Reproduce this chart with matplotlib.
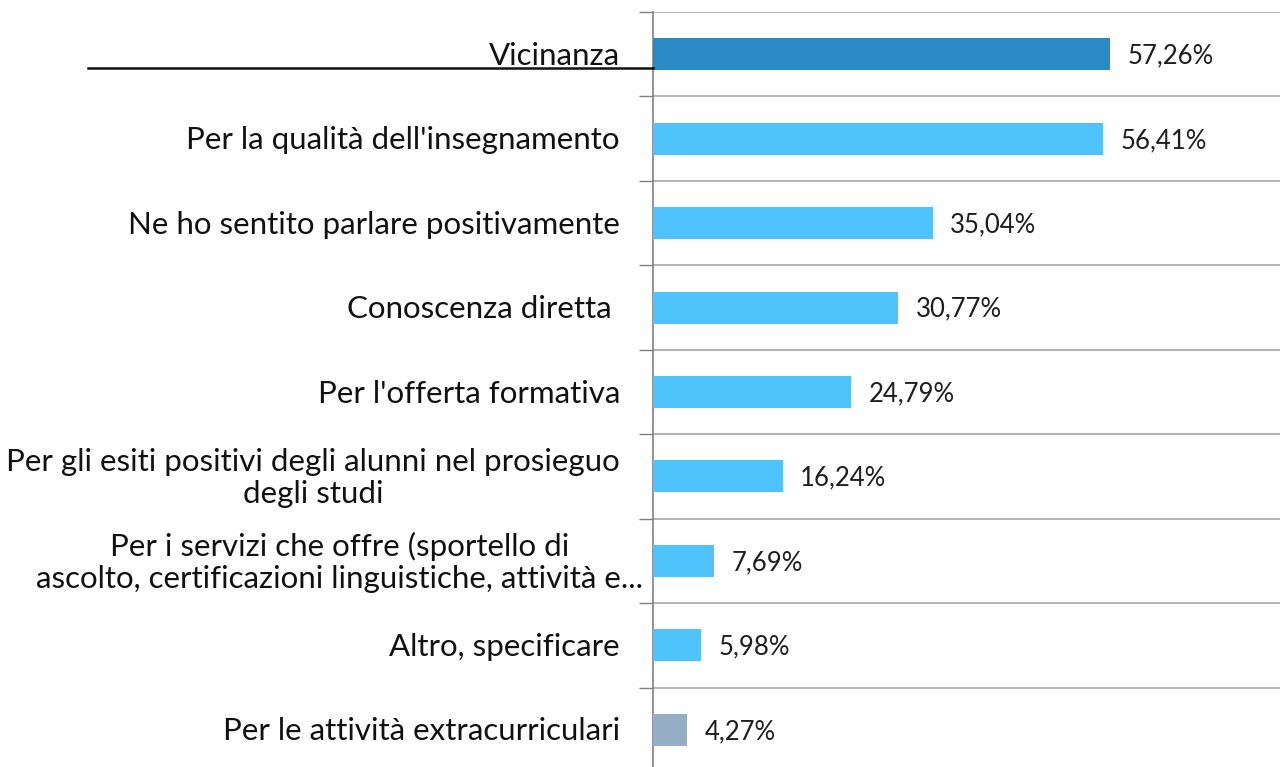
import numpy as np
import matplotlib.pyplot as plt
from matplotlib.lines import Line2D
from matplotlib.transforms import blended_transform_factory

plt.rcParams['font.family'] = ['Lato', 'DejaVu Sans']

categorie = [
    "Vicinanza",
    "Per la qualità dell'insegnamento",
    "Ne ho sentito parlare positivamente",
    "Conoscenza diretta ",
    "Per l'offerta formativa",
    "Per gli esiti positivi degli alunni nel prosieguo\ndegli studi",
    "Per i servizi che offre (sportello di\nascolto, certificazioni linguistiche, attività e...",
    "Altro, specificare",
    "Per le attività extracurriculari",
]
percentuali = [57.26, 56.41, 35.04, 30.77, 24.79, 16.24, 7.69, 5.98, 4.27]
colori = ["#2a8ac4"] + ["#4fc3fb"] * 7 + ["#95aec6"]

W, H = 1280, 767
fig = plt.figure(figsize=(W / 100, H / 100), dpi=100)
ax = fig.add_axes([653 / W, -5 / H, 1 - 653 / W, 760 / H])

y = np.arange(len(categorie))
ax.barh(y, percentuali, height=0.38, color=colori, zorder=3)
ax.set_ylim(len(categorie) - 0.5, -0.5)
ax.set_xlim(0, 78.6)

# separatori tra le categorie
ax.set_yticks([])
ax.set_yticks(np.arange(-0.5, len(categorie)), minor=True)
ax.tick_params(axis='y', which='minor', length=10, width=1, color='#808080')
ax.grid(axis='y', which='minor', color='#a6a6a6', linewidth=1.2)
ax.set_xticks([])
for lato in ['top', 'right', 'bottom']:
    ax.spines[lato].set_visible(False)
ax.spines['left'].set_color('#808080')
ax.spines['left'].set_linewidth(1.2)

# etichette delle categorie
trans = blended_transform_factory(fig.transFigure, ax.transData)
for i, testo in enumerate(categorie):
    x_dx = 643 if i == 6 else 620
    ax.text(x_dx / W, i + 0.02, testo, transform=trans, ha='right', va='center',
            multialignment='center', fontsize=22.5, color='#111111',
            linespacing=1.2)

# valori percentuali
for i, v in enumerate(percentuali):
    ax.text(v + 2.2, i + 0.02, f"{v:.2f}%".replace('.', ','), ha='left',
            va='center', fontsize=18.5, color='#1e1e1e')

fig.add_artist(Line2D([88 / W, 653 / W], [1 - 68 / H, 1 - 68 / H],
                      color='#111111', linewidth=1.8))

fig.savefig('out.png', dpi=100, facecolor='white')
